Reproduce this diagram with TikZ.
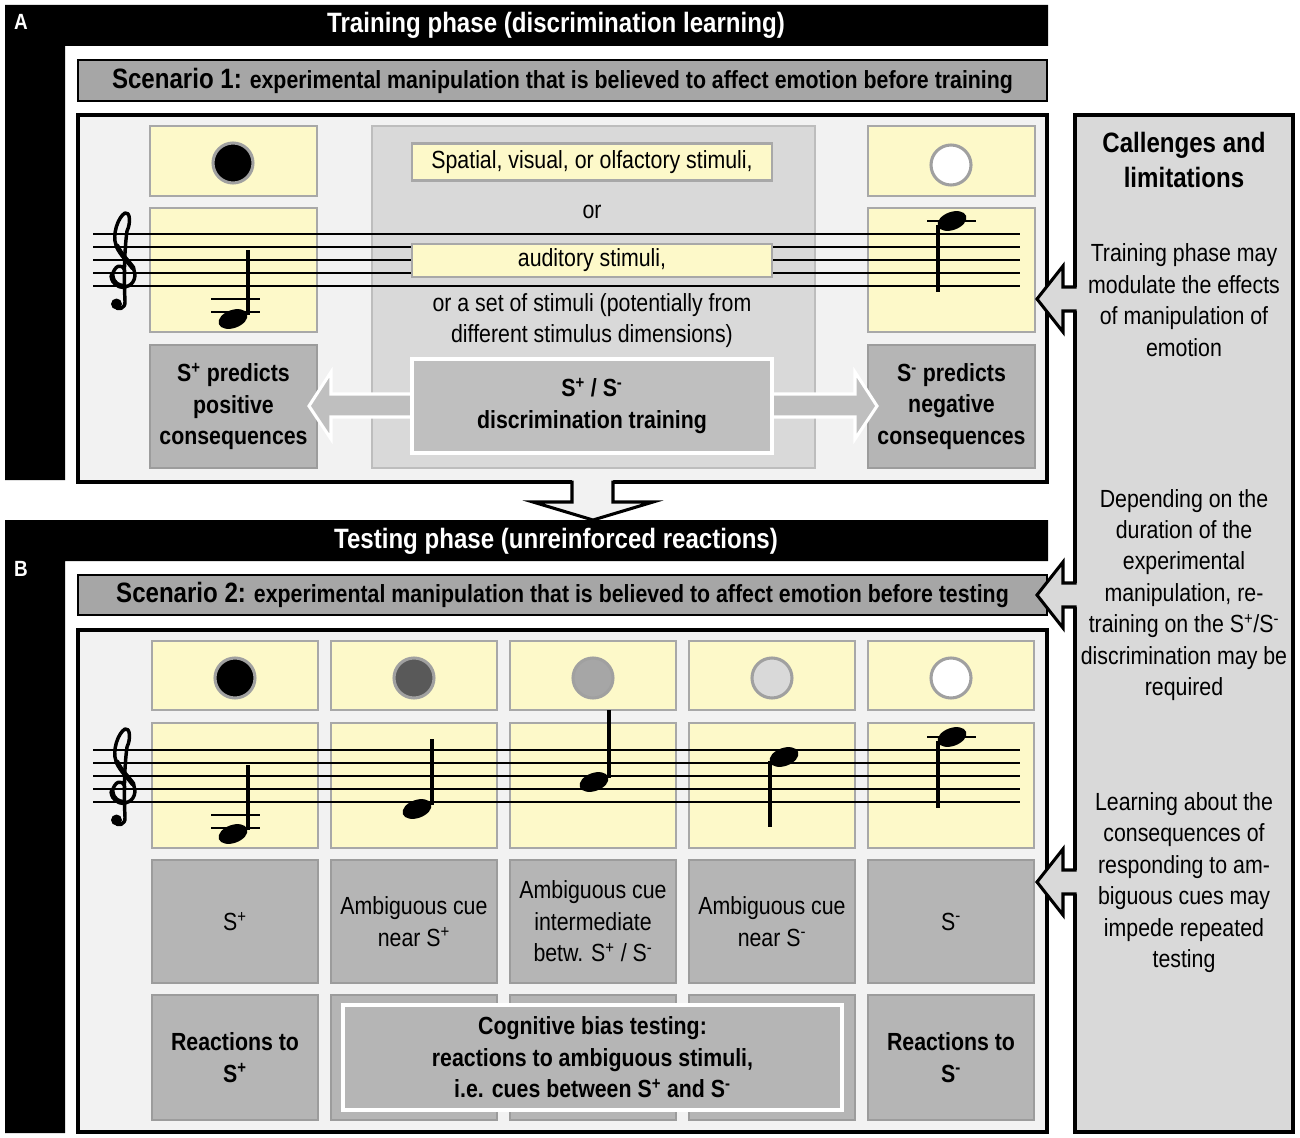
\documentclass[tikz,border=0pt]{standalone}
\usepackage{fontspec}
\setmainfont[FakeStretch=0.86]{Liberation Sans}
\definecolor{panelfill}{HTML}{F2F2F2}
\definecolor{scenfill}{HTML}{A6A6A6}
\definecolor{yelfill}{HTML}{FDF9C9}
\definecolor{yeldraw}{HTML}{A8A8A8}
\definecolor{gboxfill}{HTML}{B5B5B5}
\definecolor{gboxdraw}{HTML}{9C9C9C}
\definecolor{centfill}{HTML}{D9D9D9}
\definecolor{centdraw}{HTML}{BDBDBD}
\definecolor{discfill}{HTML}{BFBFBF}
\definecolor{rightfill}{HTML}{D9D9D9}
\definecolor{circdraw}{HTML}{A0A0A0}
\newcommand\nhead[2]{\fill[rotate around={20:(#1,#2)}] (#1,#2) ellipse [x radius=15, y radius=9];}
\begin{document}
\begin{tikzpicture}[x=0.75pt,y=-0.75pt,line join=miter,
  wh/.style 2 args={minimum width=#1*0.75pt, minimum height=#2*0.75pt, inner sep=0pt},
  txt/.style={font=\fontsize{18.6}{23.6}\selectfont, align=center},
  btxt/.style={font=\bfseries\fontsize{18.6}{23.6}\selectfont, align=center},
  title/.style={text=white, font=\bfseries\fontsize{21}{24}\selectfont},
  lab/.style={text=white, font=\bfseries\fontsize{16.5}{18}\selectfont},
  scen/.style={draw=black, line width=1.9pt, fill=scenfill, font=\bfseries\fontsize{18.6}{20}\selectfont},
  panel/.style={draw=black, line width=2.3pt, fill=panelfill},
  yel/.style={draw=yeldraw, line width=2pt, fill=yelfill},
  gbox/.style={draw=gboxdraw, line width=2pt, fill=gboxfill},
  circ/.style={circle, draw=circdraw, line width=2.3pt, minimum size=40*0.75pt, inner sep=0pt},
  staff/.style={line width=1.9pt, black},
  stem/.style={line width=2.4pt, black},
  ledger/.style={line width=1.9pt, black},
  bigarrow/.style={draw=black, line width=2.3pt},
  trebleclef/.pic={
    \draw[line width=2.6pt, line cap=round, line join=round]
      (2,1) .. controls (5,-6) and (-3,-10) .. (-7,-4)
      .. controls (-13,4) and (-7,14) .. (1,14)
      .. controls (10,14) and (15,6) .. (12,-3)
      .. controls (9,-11) and (-2,-18) .. (-6,-28)
      .. controls (-10,-38) and (-4,-56) .. (3,-60)
      .. controls (8,-62) and (9,-50) .. (5,-42)
      .. controls (2,-20) and (2,10) .. (3,28)
      .. controls (4,36) and (-5,38) .. (-7,33);
    \draw[line width=4pt, line cap=round] (-10,3) .. controls (-9,11) and (-3,13) .. (1,13.5);
    \draw[line width=3.8pt, line cap=round] (11,-5) .. controls (6,-12) and (-1,-18) .. (-5,-27);
    \fill (-5.5,31) circle [radius=5.5];
  }
]
\useasboundingbox (0,0) rectangle (1300,1138);
\fill[white] (0,0) rectangle (1300,1138);

%% ---------------- Panel A ----------------
\fill[black] (5,5) -- (1048,5) -- (1048,46) -- (65,46) -- (65,480) -- (5,480) -- cycle;
\node[title] (tA) at (556,25) {Training phase (discrimination learning)};
\node[lab] (lA) at (21,22) {A};
\node[scen, wh={969}{41}] (sc1) at (562.5,80.5)
  {{\fontsize{21}{22}\selectfont Scenario 1:} experimental manipulation that is believed to affect emotion before training};
\node[panel, wh={969}{367}] (pA) at (562.5,298.5) {};

% left column
\node[yel, wh={167}{70}] (a1c) at (233.5,161) {};
\node[yel, wh={167}{124}] (a1s) at (233.5,270) {};
\node[gbox, wh={167}{123}, btxt] (a1g) at (233.5,406.5) {S\textsuperscript{+} predicts\\positive\\consequences};
% right column
\node[yel, wh={167}{70}] (a2c) at (951.5,161) {};
\node[yel, wh={167}{124}] (a2s) at (951.5,270) {};
\node[gbox, wh={167}{123}, btxt] (a2g) at (951.5,406.5) {S\textsuperscript{-} predicts\\negative\\consequences};
% centre
\node[draw=centdraw, line width=2pt, fill=centfill, wh={443}{342}] (ac) at (593.5,297) {};
\node[yel, wh={360}{37}, txt] (asp) at (592,162) {Spatial, visual, or olfactory stimuli,};
\node[txt] (aor) at (592,212) {or};

% staff A
\foreach \yy in {234,247,260,273,286} \draw[staff] (93,\yy) -- (1020,\yy);
\node[yel, wh={360}{33}, txt] (aau) at (592,260.5) {auditory stimuli,};
\node[txt] (aset) at (592,320.5) {or a set of stimuli (potentially from\\different stimulus dimensions)};
\pic at (122,273) {trebleclef};
% note A left
\draw[ledger] (211,299) -- (260,299);
\draw[ledger] (211,312) -- (260,312);
\nhead{233}{319}
\draw[stem] (248,315) -- (248,250);
% note A right
\draw[ledger] (927,221) -- (976,221);
\nhead{952}{221}
\draw[stem] (938,225) -- (938,292);
% circles A
\node[circ, fill=black] (ca1) at (233,163) {};
\node[circ, fill=white] (ca2) at (951,165) {};

% double arrow + discrimination box
\filldraw[fill=discfill, draw=white, line width=2.3pt]
  (309,406) -- (331,372) -- (331,394) -- (855,394) -- (855,372) -- (877,406)
  -- (855,439) -- (855,417) -- (331,417) -- (331,439) -- cycle;
\node[fill=discfill, draw=white, line width=2.3pt, wh={360}{94}, btxt] (adisc) at (592,406)
  {S\textsuperscript{+} / S\textsuperscript{-}\\discrimination training};

%% ---------------- Panel B ----------------
\fill[black] (5,520) -- (1048,520) -- (1048,561) -- (65,561) -- (65,1133) -- (5,1133) -- cycle;
\node[title] (tB) at (556,541) {Testing phase (unreinforced reactions)};
\node[lab] (lB) at (21,569) {B};
\node[scen, wh={969}{40}] (sc2) at (562.5,595)
  {{\fontsize{21}{22}\selectfont Scenario 2:} experimental manipulation that is believed to affect emotion before testing};
\node[panel, wh={969}{502}] (pB) at (562.5,881) {};

\foreach \cx/\nm in {235/1,414/2,593/3,772/4,951/5} {
  \node[yel, wh={166}{69}] (b\nm c) at (\cx,675.5) {};
  \node[yel, wh={166}{125}] (b\nm s) at (\cx,785.5) {};
}
\node[gbox, wh={166}{123}, txt] (b1g) at (235,921.5) {S\textsuperscript{+}};
\node[gbox, wh={166}{123}, txt] (b2g) at (414,921.5) {Ambiguous cue\\near S\textsuperscript{+}};
\node[gbox, wh={166}{123}, txt] (b3g) at (593,921.5) {Ambiguous cue\\intermediate\\betw. S\textsuperscript{+} / S\textsuperscript{-}};
\node[gbox, wh={166}{123}, txt] (b4g) at (772,921.5) {Ambiguous cue\\near S\textsuperscript{-}};
\node[gbox, wh={166}{123}, txt] (b5g) at (951,921.5) {S\textsuperscript{-}};
\node[gbox, wh={166}{125}, btxt] (b1r) at (235,1057.5) {Reactions to\\S\textsuperscript{+}};
\node[gbox, wh={166}{125}] (b2r) at (414,1057.5) {};
\node[gbox, wh={166}{125}] (b3r) at (593,1057.5) {};
\node[gbox, wh={166}{125}] (b4r) at (772,1057.5) {};
\node[gbox, wh={166}{125}, btxt] (b5r) at (951,1057.5) {Reactions to\\S\textsuperscript{-}};
\node[fill=gboxfill, draw=white, line width=2.3pt, wh={499}{105}, btxt] (bcog) at (592.5,1057.5)
  {Cognitive bias testing:\\reactions to ambiguous stimuli,\\i.e. cues between S\textsuperscript{+} and S\textsuperscript{-}};

% staff B
\foreach \yy in {750,763,776,789,802} \draw[staff] (93,\yy) -- (1020,\yy);
\pic at (122,789) {trebleclef};
% notes B
\draw[ledger] (211,815) -- (260,815);
\draw[ledger] (211,828) -- (260,828);
\nhead{233}{834}
\draw[stem] (248,830) -- (248,765);
\nhead{417}{809}
\draw[stem] (432,805) -- (432,739);
\nhead{594}{782}
\draw[stem] (609,778) -- (609,710);
\nhead{784}{757}
\draw[stem] (770,761) -- (770,827);
\draw[ledger] (927,737) -- (976,737);
\nhead{952}{737}
\draw[stem] (938,741) -- (938,808);
% circles B
\node[circ, fill=black] (cb1) at (235,678) {};
\node[circ, fill=black!65] (cb2) at (414,678) {};
\node[circ, fill=black!35] (cb3) at (593,678) {};
\node[circ, fill=black!15] (cb4) at (772,678) {};
\node[circ, fill=white] (cb5) at (951,678) {};

%% ---------------- down arrow ----------------
\fill[panelfill] (572,478) -- (572,502) -- (533,502) -- (593,520) -- (653,502) -- (613,502) -- (613,478) -- cycle;
\draw[bigarrow] (572,480.5) -- (572,502) -- (533,502) -- (593,520) -- (653,502) -- (613,502) -- (613,480.5);

%% ---------------- right panel ----------------
\node[draw=black, line width=2.3pt, fill=rightfill, wh={218}{1017}] (rp) at (1184,623.5) {};
\node[font=\bfseries\fontsize{21}{26}\selectfont, align=center] (rt) at (1184,160) {Callenges and\\limitations};
\node[txt] (r1) at (1184,300) {Training phase may\\modulate the effects\\of manipulation of\\emotion};
\node[txt] (r2) at (1184,595) {Depending on the\\duration of the\\experimental\\manipulation, re-\\training on the S\textsuperscript{+}/S\textsuperscript{-}\\discrimination may be\\required};
\node[txt] (r3) at (1184,882.5) {Learning about the\\consequences of\\responding to am-\\biguous cues may\\impede repeated\\testing};

\foreach \ty in {299,595,882} {
  \fill[rightfill] (1078,\ty-12) -- (1063,\ty-12) -- (1063,\ty-33) -- (1037,\ty) -- (1063,\ty+33) -- (1063,\ty+12) -- (1078,\ty+12) -- cycle;
  \draw[bigarrow] (1076.5,\ty-12) -- (1063,\ty-12) -- (1063,\ty-33) -- (1037,\ty) -- (1063,\ty+33) -- (1063,\ty+12) -- (1076.5,\ty+12);
}
\end{tikzpicture}
\end{document}
